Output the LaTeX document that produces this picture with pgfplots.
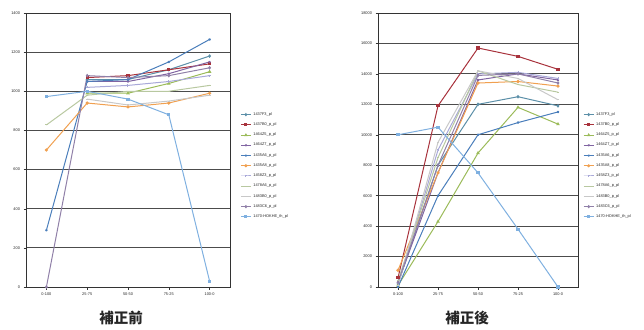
\documentclass[border=0pt]{standalone}
\usepackage{pgfplots}
\pgfplotsset{compat=1.18}
\usepackage{fontspec}
\setmainfont{Liberation Sans}
\newfontfamily\cjk{Noto Sans CJK JP}
\definecolor{c1}{HTML}{5B8FA8}
\definecolor{c2}{HTML}{A8323C}
\definecolor{c3}{HTML}{9BBB59}
\definecolor{c4}{HTML}{8064A2}
\definecolor{c5}{HTML}{4A7EBB}
\definecolor{c6}{HTML}{F0A050}
\definecolor{c7}{HTML}{A8A8D8}
\definecolor{c8}{HTML}{B8C8A0}
\definecolor{c9}{HTML}{C8C8C8}
\definecolor{c10}{HTML}{9080A8}
\definecolor{c11}{HTML}{7FB0E0}
\pgfplotsset{
  s1/.style={c1, mark=diamond*},
  s2/.style={c2, mark=square*},
  s3/.style={c3, mark=triangle*},
  s4/.style={c4, mark=x},
  s5/.style={c5, mark=asterisk},
  s6/.style={c6, mark=*},
  s7/.style={c7, mark=+},
  s8/.style={c8, mark=-},
  s9/.style={c9, mark=-},
  s10/.style={c10, mark=diamond*},
  s11/.style={c11, mark=square*},
  chart/.style={
    scale only axis, height=274pt,
    xmin=-0.5, xmax=4.5, xtick={0,...,4},
    xticklabels={0-100,25-75,50-50,75-25,100-0},
    ymajorgrids, grid style={black!70, line width=0.9pt},
    axis line style={black!80, line width=0.8pt},
    tick style={black!80, line width=0.4pt}, tick align=outside,
    major tick length=2.5pt,
    ticklabel style={font=\fontsize{3.9}{4}\selectfont, text=black!85},
    xtick pos=bottom, ytick pos=left,
    legend style={draw=none, fill=none, font=\fontsize{3.9}{4}\selectfont,
      row sep=1.9pt, anchor=north west, inner sep=0pt, text=black!85},
    legend cell align=left,
    legend image code/.code={\draw[mark repeat=2,mark phase=2,mark size=1pt]
      plot coordinates {(0pt,0pt)(5pt,0pt)(10pt,0pt)};},
    every axis plot/.append style={line width=1pt, mark size=1.1pt},
    /pgf/number format/1000 sep={},
    /pgf/number format/assume math mode=true,
  }
}
\begin{document}
\begin{tikzpicture}[x=1pt,y=1pt]
\useasboundingbox (0,0) rectangle (644,329);
% ---------- left: before correction ----------
\begin{axis}[chart, width=204pt, at={(26pt,42pt)}, anchor=south west,
  ymin=0, ymax=1400, ytick={0,200,...,1400},
  legend style={at={(rel axis cs:1.05,0.645)}}]
\addplot[s1] coordinates {(1,1060)(2,1060)(3,1110)(4,1180)};
\addplot[s2] coordinates {(1,1070)(2,1080)(3,1110)(4,1140)};
\addplot[s3] coordinates {(1,990)(2,990)(3,1040)(4,1100)};
\addplot[s4] coordinates {(1,1050)(2,1050)(3,1090)(4,1150)};
\addplot[s5] coordinates {(0,290)(1,1050)(2,1060)(3,1150)(4,1265)};
\addplot[s6] coordinates {(0,700)(1,940)(2,920)(3,940)(4,990)};
\addplot[s7] coordinates {(1,1020)(2,1030)(3,1050)(4,1080)};
\addplot[s8] coordinates {(0,828)(1,980)(2,1000)(3,1000)(4,1030)};
\addplot[s9] coordinates {(1,960)(2,930)(3,950)(4,980)};
\addplot[s10] coordinates {(0,0)(1,1080)(2,1070)(3,1080)(4,1120)};
\addplot[s11] coordinates {(0,973)(1,1000)(2,960)(3,880)(4,30)};
\legend{1437F3\_pl,1437B0\_p\_pl,1464Z5\_p\_pl,1464Z7\_p\_pl,1435A6\_p\_pl,1435A8\_p\_pl,1458Z3\_p\_pl,1478A6\_p\_pl,1483B0\_p\_pl,1483C6\_p\_pl,1470-HOKHE\_th\_pl}
\end{axis}
\node[font=\cjk\bfseries\fontsize{14.5}{14.5}\selectfont, text=black!85] at (121,11) {補正前};
% ---------- right: after correction ----------
\begin{axis}[chart, width=200pt, at={(378pt,42pt)}, anchor=south west,
  ymin=0, ymax=18000, ytick={0,2000,...,18000},
  scaled y ticks=false,
  legend style={at={(rel axis cs:1.025,0.645)}}]
\addplot[s1] coordinates {(0,200)(1,8000)(2,12000)(3,12500)(4,11900)};
\addplot[s2] coordinates {(0,600)(1,11900)(2,15700)(3,15150)(4,14300)};
\addplot[s3] coordinates {(0,100)(1,4300)(2,8800)(3,11800)(4,10700)};
\addplot[s4] coordinates {(0,300)(1,7500)(2,13600)(3,14000)(4,13600)};
\addplot[s5] coordinates {(0,0)(1,6000)(2,10000)(3,10800)(4,11500)};
\addplot[s6] coordinates {(0,1100)(1,7500)(2,13400)(3,13500)(4,13200)};
\addplot[s7] coordinates {(0,200)(1,9000)(2,14000)(3,14100)(4,13700)};
\addplot[s8] coordinates {(0,400)(1,8500)(2,14200)(3,13300)(4,12800)};
\addplot[s9] coordinates {(0,100)(1,9500)(2,14200)(3,13700)(4,12300)};
\addplot[s10] coordinates {(0,300)(1,8000)(2,13900)(3,14000)(4,13400)};
\addplot[s11] coordinates {(0,10000)(1,10500)(2,7500)(3,3800)(4,0)};
\legend{1437F3\_pl,1437B0\_p\_pl,1464Z5\_p\_pl,1464Z7\_p\_pl,1435A6\_p\_pl,1435A8\_p\_pl,1458Z3\_p\_pl,1478A6\_p\_pl,1483B0\_p\_pl,1483C6\_p\_pl,1470-HOKHE\_th\_pl}
\end{axis}
\node[font=\cjk\bfseries\fontsize{14.5}{14.5}\selectfont, text=black!85] at (467,11) {補正後};
\end{tikzpicture}
\end{document}
